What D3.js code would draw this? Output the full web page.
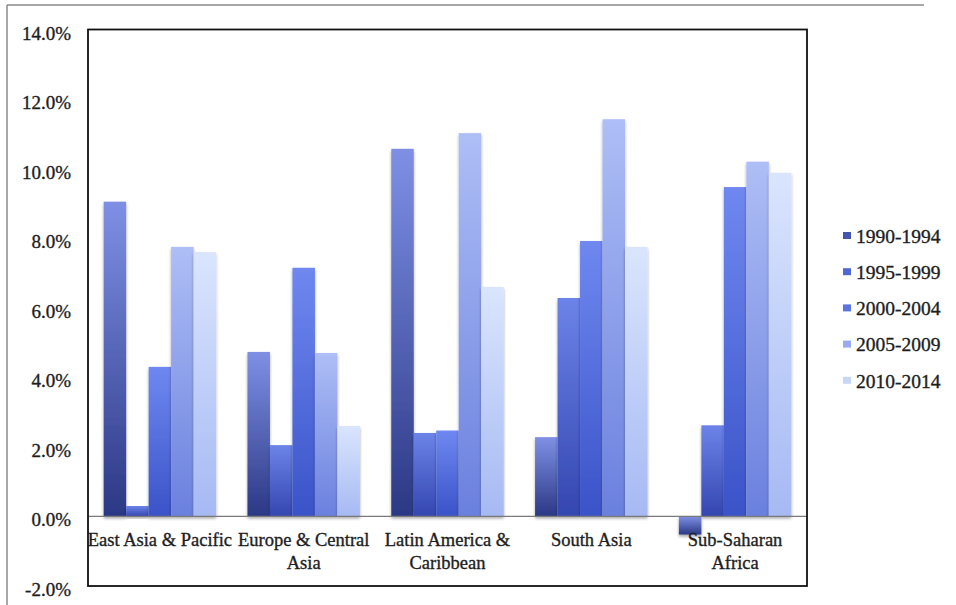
<!DOCTYPE html>
<html>
<head>
<meta charset="utf-8">
<script src="https://cdn.jsdelivr.net/npm/d3@7"></script>
<style>
  html, body { margin: 0; padding: 0; background: #ffffff; }
  svg { display: block; }
  text { font-family: "Liberation Serif", "Times New Roman", serif; fill: #1e1e1e; stroke: #1e1e1e; stroke-width: 0.35px; }
</style>
</head>
<body>
<svg id="chart" width="956" height="605"></svg>
<script>
// Regional growth rates by five-year period (percent)
const regions = [
  ["East Asia & Pacific"],
  ["Europe & Central", "Asia"],
  ["Latin America &", "Caribbean"],
  ["South Asia"],
  ["Sub-Saharan", "Africa"]
];
const periods = ["1990-1994", "1995-1999", "2000-2004", "2005-2009", "2010-2014"];

const eastAsiaPacific   = [9.05, 0.30, 4.30, 7.75, 7.60];
const europeCentralAsia = [4.73, 2.05, 7.15, 4.70, 2.60];
const latinAmerica      = [10.57, 2.40, 2.47, 11.02, 6.60];
const southAsia         = [2.28, 6.28, 7.92, 11.42, 7.75];
const subSaharanAfrica  = [-0.52, 2.62, 9.47, 10.20, 9.88];

const yTicks = [-2, 0, 2, 4, 6, 8, 10, 12, 14];

// Gradient stops per period: [bottom, top]
const periodShades = [
  ["#2b3884", "#7f90e4"],
  ["#3446b0", "#6c83e8"],
  ["#3a53c8", "#6f88f0"],
  ["#6a80de", "#aebef6"],
  ["#a6b9f3", "#dae5fd"]
];
const legendColors = ["#4656b0", "#5068d4", "#5a74e2", "#9aaaf0", "#c8d6fa"];

const seriesByRegion = [eastAsiaPacific, europeCentralAsia, latinAmerica, southAsia, subSaharanAfrica];
const rows = regions.map((lines, i) => ({ key: i, lines, values: seriesByRegion[i] }));

const svg = d3.select("#chart");
const plot = { left: 88, right: 807, top: 29.5, bottom: 586 };

// Outer chart border (top and left edges visible)
svg.append("line").attr("x1", 7).attr("x2", 924).attr("y1", 5).attr("y2", 5)
  .attr("stroke", "#8a8a8a").attr("stroke-width", 1.5);
svg.append("line").attr("x1", 7).attr("x2", 7).attr("y1", 5).attr("y2", 605)
  .attr("stroke", "#8a8a8a").attr("stroke-width", 1.5);

const defs = svg.append("defs");
periodShades.forEach((c, i) => {
  const g = defs.append("linearGradient").attr("id", "grad" + i)
    .attr("x1", 0).attr("y1", 1).attr("x2", 0).attr("y2", 0);
  g.append("stop").attr("offset", "0%").attr("stop-color", c[0]);
  g.append("stop").attr("offset", "100%").attr("stop-color", c[1]);
});
const shadow = defs.append("filter").attr("id", "barShadow")
  .attr("x", "-10%").attr("y", "-10%").attr("width", "120%").attr("height", "130%");
shadow.append("feDropShadow").attr("dx", 0).attr("dy", 2).attr("stdDeviation", 1.4)
  .attr("flood-color", "#000").attr("flood-opacity", 0.35);

const x0 = d3.scaleBand().domain(rows.map(d => d.key))
  .range([plot.left, plot.right]).paddingInner(0.218).paddingOuter(0.109);
const x1 = d3.scaleBand().domain(d3.range(periods.length))
  .range([0, x0.bandwidth()]).padding(0);
const y = d3.scaleLinear().domain([-2, 14]).range([plot.bottom, plot.top]);

// Y axis labels
const yAxis = d3.axisLeft(y).tickValues(yTicks).tickSize(0).tickPadding(17)
  .tickFormat(v => v.toFixed(1) + "%");
const ya = svg.append("g").attr("transform", `translate(${plot.left},0)`).call(yAxis);
ya.select(".domain").remove();
ya.attr("font-size", null).attr("font-family", null);
ya.selectAll("text").style("font-size", "19px").attr("dy", "0.5em");

// Bars
const groups = svg.append("g").selectAll("g").data(rows).join("g")
  .attr("transform", d => `translate(${x0(d.key)},0)`);
groups.selectAll("rect").data(d => d.values.map((v, i) => ({ v, i }))).join("rect")
  .attr("x", d => x1(d.i))
  .attr("width", x1.bandwidth())
  .attr("y", d => y(Math.max(0, d.v)))
  .attr("height", d => Math.abs(y(d.v) - y(0)))
  .attr("fill", d => `url(#grad${d.i})`)
  .attr("filter", "url(#barShadow)");

// Zero line
svg.append("line").attr("x1", plot.left).attr("x2", plot.right)
  .attr("y1", y(0)).attr("y2", y(0)).attr("stroke", "#7a7a7a").attr("stroke-width", 1.2);

// Category labels
const cat = svg.append("g").selectAll("text").data(rows).join("text")
  .attr("x", d => x0(d.key) + x0.bandwidth() / 2)
  .attr("y", 546)
  .attr("text-anchor", "middle")
  .style("font-size", "18.5px");
cat.selectAll("tspan").data(d => d.lines).join("tspan")
  .attr("x", function () { return d3.select(this.parentNode).attr("x"); })
  .attr("dy", (d, i) => i === 0 ? 0 : 23)
  .text(d => d);

// Plot area frame
svg.append("rect").attr("x", plot.left).attr("y", plot.top)
  .attr("width", plot.right - plot.left).attr("height", plot.bottom - plot.top)
  .attr("fill", "none").attr("stroke", "#111").attr("stroke-width", 1.8);

// Legend
const legend = svg.append("g").selectAll("g").data(periods).join("g")
  .attr("transform", (d, i) => `translate(843,${236 + i * 36.2})`);
legend.append("rect").attr("x", 0).attr("y", -4).attr("width", 8).attr("height", 7)
  .attr("fill", (d, i) => legendColors[i]);
legend.append("text").attr("x", 13).attr("y", 0).attr("dy", "0.35em")
  .style("font-size", "19.5px").text(d => d);
</script>
</body>
</html>
